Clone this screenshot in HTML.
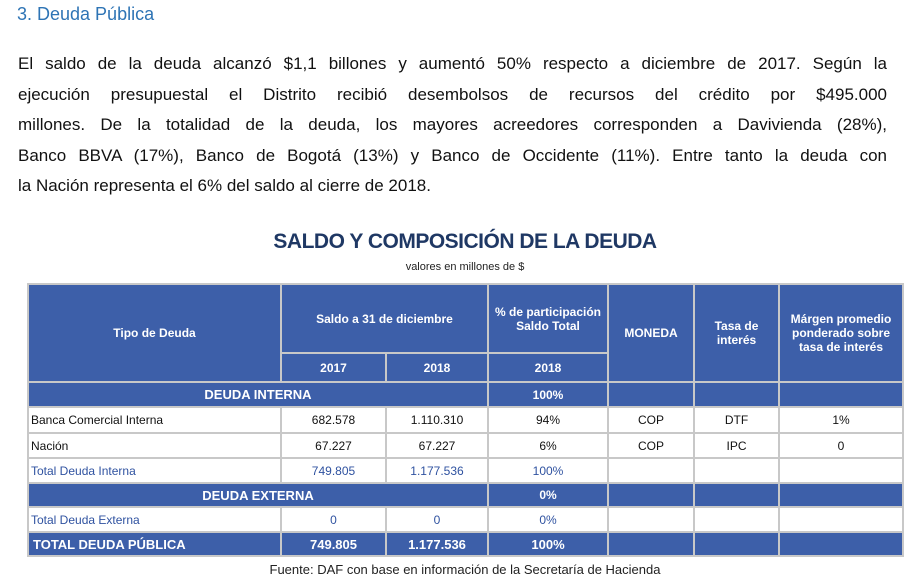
<!DOCTYPE html>
<html><head><meta charset="utf-8">
<style>
body{margin:0;width:920px;height:587px;background:#fff;position:relative;overflow:hidden;font-family:"Liberation Sans",sans-serif;}
.h{position:absolute;left:17px;top:4px;font-size:18px;color:#2e74b5;}
.p{position:absolute;left:18px;top:49px;width:869px;font-size:17px;color:#111;}
.p div{height:30.5px;line-height:30px;text-align:justify;text-align-last:justify;}
.p div.last{text-align-last:left;}
.t{position:absolute;left:0;width:930px;text-align:center;top:230px;font-size:21px;font-weight:bold;color:#1f3864;letter-spacing:-0.5px;}
.s{position:absolute;left:0;width:930px;text-align:center;top:261px;font-size:11px;color:#222;}
table{position:absolute;left:27px;top:283px;border-collapse:collapse;font-size:12px;table-layout:fixed;}
td{border:2px solid #c8c8c8;padding:0;text-align:center;color:#111;}
.b td,td.b{background:#3d5fa9;color:#fff;font-weight:bold;}
td.l{text-align:left;padding-left:2px;}
.bl td{color:#2f52a0;}
.f{position:absolute;left:0;width:930px;text-align:center;top:562px;font-size:13px;color:#222;}
</style></head><body>
<div class="h">3. Deuda Pública</div>
<div class="p">
<div>El saldo de la deuda alcanzó $1,1 billones y aumentó 50% respecto a diciembre de 2017. Según la</div>
<div>ejecución presupuestal el Distrito recibió desembolsos de recursos del crédito por $495.000</div>
<div>millones. De la totalidad de la deuda, los mayores acreedores corresponden a Davivienda (28%),</div>
<div>Banco BBVA (17%), Banco de Bogotá (13%) y Banco de Occidente (11%). Entre tanto la deuda con</div>
<div class="last">la Nación representa el 6% del saldo al cierre de 2018.</div>
</div>
<div class="t">SALDO Y COMPOSICIÓN DE LA DEUDA</div>
<div class="s">valores en millones de $</div>
<table>
<colgroup><col style="width:253px"><col style="width:105px"><col style="width:102px"><col style="width:120px"><col style="width:86px"><col style="width:85px"><col style="width:124px"></colgroup>
<tr class="b" style="height:69px"><td rowspan="2">Tipo de Deuda</td><td colspan="2">Saldo a 31 de diciembre</td><td>% de participación<br>Saldo Total</td><td rowspan="2">MONEDA</td><td rowspan="2">Tasa de<br>interés</td><td rowspan="2">Márgen promedio<br>ponderado sobre<br>tasa de interés</td></tr>
<tr class="b" style="height:29px"><td>2017</td><td>2018</td><td>2018</td></tr>
<tr class="b" style="height:25px"><td colspan="3" style="font-size:13px">DEUDA INTERNA</td><td>100%</td><td></td><td></td><td></td></tr>
<tr style="height:26px"><td class="l">Banca Comercial Interna</td><td>682.578</td><td>1.110.310</td><td>94%</td><td>COP</td><td>DTF</td><td>1%</td></tr>
<tr style="height:25px"><td class="l">Nación</td><td>67.227</td><td>67.227</td><td>6%</td><td>COP</td><td>IPC</td><td>0</td></tr>
<tr class="bl" style="height:25px"><td class="l">Total Deuda Interna</td><td>749.805</td><td>1.177.536</td><td>100%</td><td></td><td></td><td></td></tr>
<tr class="b" style="height:24px"><td colspan="3" style="font-size:13px">DEUDA EXTERNA</td><td>0%</td><td></td><td></td><td></td></tr>
<tr class="bl" style="height:25px"><td class="l">Total Deuda Externa</td><td>0</td><td>0</td><td>0%</td><td></td><td></td><td></td></tr>
<tr class="b" style="height:24px;font-size:13px"><td class="l" style="padding-left:4px">TOTAL DEUDA PÚBLICA</td><td>749.805</td><td>1.177.536</td><td>100%</td><td></td><td></td><td></td></tr>
</table>
<div class="f">Fuente: DAF con base en información de la Secretaría de Hacienda</div>
</body></html>
